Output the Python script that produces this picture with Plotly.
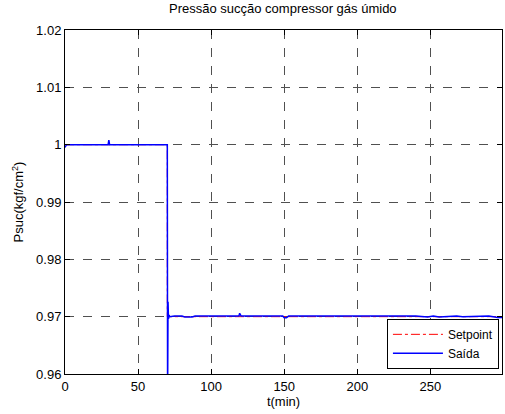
import plotly.graph_objects as go

# Time (min) and suction pressure (kgf/cm2) for the setpoint and the measured output
t_setpoint = [0, 70, 70, 299]
p_setpoint = [1.0, 1.0, 0.97, 0.97]

t_saida = [0, 0.5, 1, 29.5, 30, 30.5, 70, 70.2, 70.5, 70.8, 71.2, 71.6, 75, 80, 82, 87,
           89, 119, 119.5, 120.5, 149, 150, 151.5, 153, 200, 228, 232, 240, 248, 252, 256,
           260, 264, 268, 272, 280, 290, 296, 299]
p_saida = [0.9995, 0.9998, 1.0, 1.0, 1.0008, 1.0, 1.0, 0.955, 0.9726, 0.9696, 0.9703, 0.9700,
           0.9701, 0.9701, 0.96995, 0.96995, 0.9701, 0.9701, 0.9706, 0.9701, 0.9701, 0.9698,
           0.9698, 0.9701, 0.9701, 0.9701, 0.9700, 0.9701, 0.96995, 0.9701, 0.96995, 0.9700,
           0.96995, 0.9701, 0.9700, 0.9701, 0.9701, 0.96985, 0.96985]

x_ticks = [0, 50, 100, 150, 200, 250]
y_ticks = [0.96, 0.97, 0.98, 0.99, 1.0, 1.01, 1.02]
y_ticktext = ["0.96", "0.97", "0.98", "0.99", "1", "1.01", "1.02"]

fig = go.Figure()
fig.add_trace(go.Scatter(x=t_setpoint, y=p_setpoint, mode="lines", name="Setpoint",
                         line=dict(color="#ff0000", width=1, dash="dashdot")))
fig.add_trace(go.Scatter(x=t_saida, y=p_saida, mode="lines", name="Saída",
                         line=dict(color="#0000ff", width=1.5)))

font_family = "Liberation Sans, Arial, sans-serif"
axis_common = dict(
    showline=True, linecolor="black", linewidth=1, mirror="allticks",
    ticks="inside", ticklen=5, tickcolor="black",
    showgrid=True, gridcolor="#505050", griddash="dash", gridwidth=1,
    zeroline=False, tickfont=dict(family=font_family, size=13, color="black"),
)

fig.update_layout(
    width=505, height=414,
    margin=dict(l=65, r=3, t=30, b=40),
    paper_bgcolor="white", plot_bgcolor="white",
    title=dict(text="Pressão sucção compressor gás úmido", x=0.56, xanchor="center",
               y=0.99, yanchor="top",
               font=dict(family=font_family, size=13, color="black")),
    xaxis=dict(range=[0, 299], tickvals=x_ticks,
               title=dict(text="t(min)", standoff=3,
                          font=dict(family=font_family, size=13, color="black")),
               **axis_common),
    yaxis=dict(range=[0.96, 1.02], tickvals=y_ticks, ticktext=y_ticktext,
               title=dict(text="Psuc(kgf/cm<sup>2</sup>)", standoff=9,
                          font=dict(family=font_family, size=13, color="black")),
               **axis_common),
    legend=dict(x=0.993, y=0.015, xanchor="right", yanchor="bottom",
                bgcolor="white", bordercolor="black", borderwidth=1,
                font=dict(family=font_family, size=12, color="black"),
                tracegroupgap=0, itemwidth=50),
    showlegend=True,
)

fig.write_html("out.html")
